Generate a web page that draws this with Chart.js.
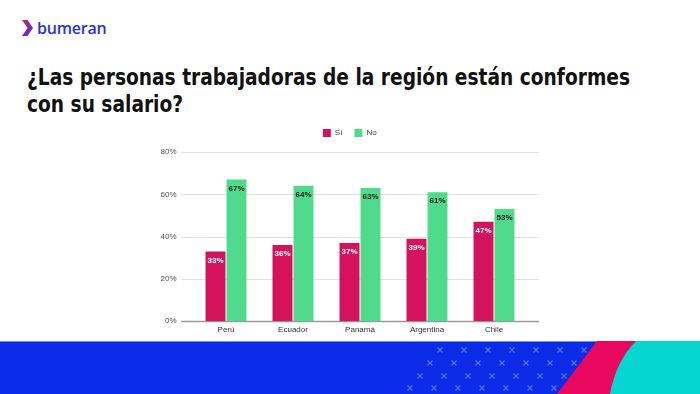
<!DOCTYPE html>
<html>
<head>
<meta charset="utf-8">
<script src="https://cdn.jsdelivr.net/npm/chart.js@4/dist/chart.umd.min.js"></script>
<style>
  html, body { margin:0; padding:0; width:700px; height:394px; overflow:hidden; background:#fff; }
  #logo { position:absolute; left:21px; top:17px; height:22px; display:flex; align-items:center; }
  #logo span { font-family:"Open Sans", "Noto Sans", sans-serif; font-size:16px; font-weight:600; color:#2a33d6; letter-spacing:-0.2px; margin-left:3px; line-height:1; }
  #title { position:absolute; left:27px; top:64px; font-family:"DejaVu Sans", sans-serif; font-weight:bold; font-size:23px; line-height:27px; color:#111; }
  #title div { white-space:nowrap; transform-origin:0 0; }
  #chartBox { position:absolute; left:130px; top:115px; width:430px; height:227px; }
  #band { position:absolute; left:0; top:341px; }
</style>
</head>
<body>
<div id="logo">
  <svg width="13" height="18" viewBox="0 0 13 18">
    <defs><linearGradient id="lg" x1="0" y1="0" x2="1" y2="1"><stop offset="0" stop-color="#e0187a"/><stop offset="1" stop-color="#2f3bdc"/></linearGradient></defs>
    <path d="M1 1 L6.5 1 L12 9 L6.5 17 L1 17 L6.5 9 Z" fill="url(#lg)"/>
  </svg>
  <span>bumeran</span>
</div>
<div id="title"><div id="t1">¿Las personas trabajadoras de la región están conformes</div><div id="t2">con su salario?</div></div>
<div id="chartBox"><canvas id="c"></canvas></div>
<svg id="band" width="700" height="53" viewBox="0 0 700 53">
  <rect x="0" y="0" width="700" height="53" fill="#0a2be8"/>
  <rect x="0" y="0" width="700" height="1" fill="#7a8cf0"/>
  <g id="xs" stroke="#5273f2" stroke-width="1.2"></g>
  <polygon points="597,0 640,0 612,53 557,53" fill="#e8085f"/>
  <path d="M636,0 L700,0 L700,53 L610,53 Q616,20 636,0 Z" fill="#05d6cf"/>
</svg>
<script>
// fit title line widths to the reference
(function(){
  const t1 = document.getElementById('t1'), t2 = document.getElementById('t2');
  const w = t1.getBoundingClientRect().width;
  const s = 603 / w;
  t1.style.transform = t2.style.transform = `scaleX(${s})`;
})();
// decorative x pattern in the bottom band
(function(){
  const g = document.getElementById('xs');
  const rows = [[9, 440], [22, 430], [35, 420], [47, 410]];
  let s = '';
  rows.forEach(([y, x0]) => {
    for (let i = 0; i < 7; i++) {
      const x = x0 + i * 24;
      s += `<path d="M${x-2.5},${y-2.5} L${x+2.5},${y+2.5} M${x+2.5},${y-2.5} L${x-2.5},${y+2.5}"/>`;
    }
  });
  g.innerHTML = s;
})();

const categories = ['Perú', 'Ecuador', 'Panamá', 'Argentina', 'Chile'];
const siValues = [33, 36, 37, 39, 47];
const noValues = [67, 64, 63, 61, 53];
const yTickValues = [0, 20, 40, 60, 80];
const seriesNames = ['Sí', 'No'];
const labelColors = ['#ffffff', '#1a1a1a'];

const extendedGrid = {
  id: 'extendedGrid',
  beforeDatasetsDraw(chart) {
    const { ctx, chartArea, scales } = chart;
    const y = scales.y;
    ctx.save();
    yTickValues.forEach(v => {
      const py = Math.round(y.getPixelForValue(v)) + 0.5;
      ctx.beginPath();
      ctx.strokeStyle = v === 0 ? '#9a9a9a' : '#e2e2e2';
      ctx.lineWidth = v === 0 ? 1.3 : 1;
      ctx.moveTo(chartArea.left - 11.5, py);
      ctx.lineTo(chartArea.right + 11.5, py);
      ctx.stroke();
    });
    ctx.restore();
  }
};

const legendTweak = {
  id: 'legendTweak',
  beforeInit(chart) {
    const orig = chart.legend.fit;
    chart.legend.fit = function () { orig.call(this); this.height += 7; };
  },
  afterLayout(chart) {
    const lg = chart.legend;
    lg.left += 21; lg.right += 21;
    lg.top += 2; lg.bottom += 2;
  }
};

const barLabels = {
  id: 'barLabels',
  afterDatasetsDraw(chart) {
    const { ctx } = chart;
    ctx.save();
    ctx.font = 'bold 8px "Liberation Sans", Arial, sans-serif';
    ctx.textAlign = 'center';
    ctx.textBaseline = 'middle';
    chart.data.datasets.forEach((ds, di) => {
      const meta = chart.getDatasetMeta(di);
      meta.data.forEach((bar, i) => {
        ctx.fillStyle = labelColors[di];
        ctx.fillText(ds.data[i] + '%', bar.x, bar.y + 9);
      });
    });
    ctx.restore();
  }
};

new Chart(document.getElementById('c'), {
  type: 'bar',
  data: {
    labels: categories,
    datasets: [
      { label: seriesNames[0], data: siValues, backgroundColor: '#d5135d', borderWidth: 0 },
      { label: seriesNames[1], data: noValues, backgroundColor: '#4fda8c', borderWidth: 0 }
    ]
  },
  options: {
    responsive: true,
    maintainAspectRatio: false,
    animation: false,
    datasets: { bar: { categoryPercentage: 0.627, barPercentage: 0.95 } },
    layout: { padding: { left: 0, right: 32.5, top: 0, bottom: 0 } },
    plugins: {
      tooltip: { enabled: false },
      legend: {
        position: 'top',
        labels: {
          boxWidth: 8, boxHeight: 8, padding: 12,
          color: '#444',
          font: { family: '"Liberation Sans", Arial, sans-serif', size: 8 }
        }
      }
    },
    scales: {
      x: {
        grid: { display: false, drawTicks: false },
        border: { display: false },
        ticks: { color: '#333', padding: 4, font: { family: '"Liberation Sans", Arial, sans-serif', size: 8 } }
      },
      y: {
        min: 0, max: 80,
        afterFit(scale) { scale.width = 62.5; },
        afterBuildTicks(scale) { scale.ticks = yTickValues.map(v => ({ value: v })); },
        grid: { display: false, drawTicks: false },
        border: { display: false },
        ticks: {
          color: '#555', padding: 16,
          font: { family: '"Liberation Sans", Arial, sans-serif', size: 8 },
          callback: v => v + '%'
        }
      }
    }
  },
  plugins: [legendTweak, extendedGrid, barLabels]
});
</script>
</body>
</html>
